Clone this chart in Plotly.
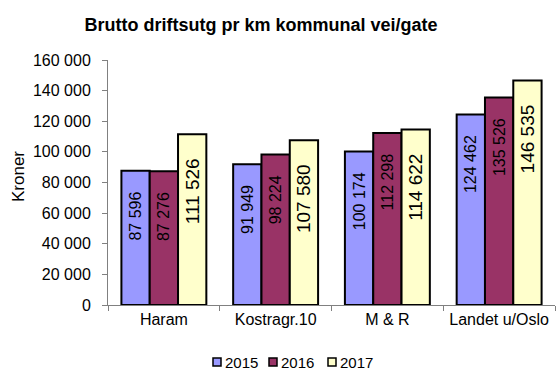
import plotly.graph_objects as go

# Road maintenance cost per km of municipal road, by region and year
categories = ["Haram", "Kostragr.10", "M & R", "Landet u/Oslo"]
years = ["2015", "2016", "2017"]
values_2015 = [87596, 91949, 100174, 124462]
values_2016 = [87276, 98224, 112298, 135526]
values_2017 = [111526, 107580, 114622, 146535]
y_ticks = [0, 20000, 40000, 60000, 80000, 100000, 120000, 140000, 160000]

series = [
    (years[0], values_2015, "#9999FF", 16),
    (years[1], values_2016, "#993366", 16),
    (years[2], values_2017, "#FFFFCC", 19),
]

FONT = "Liberation Sans, Arial, sans-serif"
PAD = "\u00a0" * 4  # keeps the value labels a little below the bar tops

fig = go.Figure()
for name, vals, color, size in series:
    fig.add_trace(go.Bar(
        name=name,
        x=categories,
        y=vals,
        marker=dict(color=color, line=dict(color="black", width=2)),
        texttemplate="%{y:,d}" + PAD,
        textposition="inside",
        insidetextanchor="end",
        textangle=-90,
        constraintext="none",
        textfont=dict(family=FONT, size=size, color="black"),
        showlegend=False,
        hoverinfo="skip",
    ))

# Legend drawn as small outlined squares with year labels
px_left, px_width = 108, 447
plot_bottom, plot_height = 305, 245
legend_starts = [213, 269, 328]
legend_y = 362
for (name, vals, color, size), start in zip(series, legend_starts):
    x0 = (start - px_left) / px_width
    x1 = (start + 8 - px_left) / px_width
    y0 = (plot_bottom - (legend_y + 4)) / plot_height
    y1 = (plot_bottom - (legend_y - 4)) / plot_height
    fig.add_shape(type="rect", xref="paper", yref="paper",
                  x0=x0, x1=x1, y0=y0, y1=y1,
                  fillcolor=color, line=dict(color="black", width=1.5))
    fig.add_annotation(xref="paper", yref="paper",
                       x=(start + 10 - px_left) / px_width,
                       y=(plot_bottom - legend_y) / plot_height,
                       xanchor="left", yanchor="middle", showarrow=False,
                       text=name, font=dict(family=FONT, size=15, color="black"))

fig.add_annotation(xref="paper", yref="paper",
                   x=(18 - px_left) / px_width, y=(plot_bottom - 177) / plot_height,
                   xanchor="center", yanchor="middle", showarrow=False,
                   text="Kroner", textangle=-90,
                   font=dict(family=FONT, size=17, color="black"))

fig.update_layout(
    width=559, height=371,
    margin=dict(l=108, r=4, t=60, b=66, autoexpand=False),
    paper_bgcolor="white", plot_bgcolor="white",
    separators=", ",
    barmode="group", bargap=0.24, bargroupgap=0,
    font=dict(family=FONT, color="black"),
    title=dict(text="<b>Brutto driftsutg pr km kommunal vei/gate</b>",
               x=261 / 559, xanchor="center", xref="container",
               y=1 - 25 / 371, yanchor="middle", yref="container",
               font=dict(family=FONT, size=18, color="black")),
    xaxis=dict(
        showline=True, linecolor="#808080", linewidth=1,
        ticks="outside", tickson="boundaries", ticklen=5, tickcolor="#808080",
        tickfont=dict(family=FONT, size=16, color="black"),
        showgrid=False,
    ),
    yaxis=dict(
        range=[0, 160000], tickvals=y_ticks, tickformat=",d",
        showline=True, linecolor="#808080", linewidth=1,
        ticks="outside", ticklen=5, tickcolor="#808080", ticklabelstandoff=8,
        tickfont=dict(family=FONT, size=16, color="black"),
        showgrid=False, zeroline=False,
    ),
)

fig.write_html("out.html")
